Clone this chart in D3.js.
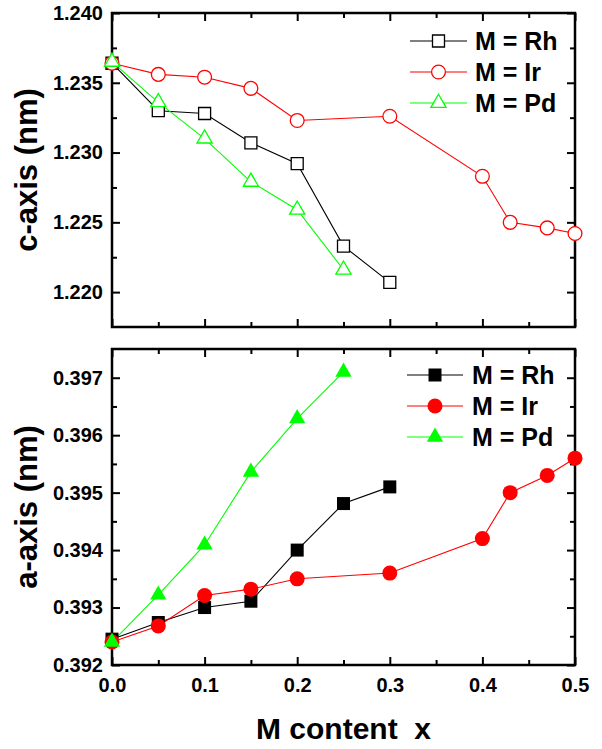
<!DOCTYPE html>
<html>
<head>
<meta charset="utf-8">
<script src="https://cdn.jsdelivr.net/npm/d3@7"></script>
<style>
  body { margin: 0; background: #fff; }
  svg text { font-family: Arial, "Liberation Sans", sans-serif; font-weight: bold; fill: #000; }
</style>
</head>
<body>
<div id="chart"></div>
<script>
// M content x for each dopant
var xRh = [0, 0.05, 0.1, 0.15, 0.2, 0.25, 0.3];
var xIr = [0, 0.05, 0.1, 0.15, 0.2, 0.3, 0.4, 0.43, 0.47, 0.5];
var xPd = [0, 0.05, 0.1, 0.15, 0.2, 0.25];

// c-axis (nm)
var cRh = [1.2364, 1.2330, 1.2328, 1.2307, 1.2292, 1.2233, 1.2207];
var cIr = [1.2364, 1.2356, 1.2354, 1.2346, 1.2323, 1.2326, 1.2283, 1.2250, 1.2246, 1.2242];
var cPd = [1.2365, 1.2336, 1.2310, 1.2279, 1.2259, 1.2216];

// a-axis (nm)
var aRh = [0.39245, 0.39274, 0.3930, 0.39311, 0.3940, 0.39481, 0.3951];
var aIr = [0.39240, 0.39268, 0.39321, 0.39332, 0.3935, 0.3936, 0.3942, 0.3950, 0.3953, 0.3956];
var aPd = [0.39240, 0.39322, 0.39409, 0.39536, 0.39629, 0.39710];

var seriesNames = ["M = Rh", "M = Ir", "M = Pd"];
var xTicks = [0, 0.1, 0.2, 0.3, 0.4, 0.5];
var cTicks = [1.220, 1.225, 1.230, 1.235, 1.240];
var aTicks = [0.392, 0.393, 0.394, 0.395, 0.396, 0.397];

var W = 602, H = 749;
var left = 112, right = 575;
var colors = ["#000000", "#ff0000", "#00ff00"];
var shapes = [d3.symbolSquare, d3.symbolCircle, d3.symbolTriangle];

var svg = d3.select("#chart").append("svg")
    .attr("width", W).attr("height", H);

var x = d3.scaleLinear().domain([0, 0.5]).range([left, right]);

function panel(opts) {
    var y = d3.scaleLinear().domain(opts.domain).range([opts.bottom, opts.top]);
    var g = svg.append("g");

    // ticks on all four sides, pointing inward
    var yMinor = opts.ticks.map(function(t) { return t + opts.minorStep; })
        .filter(function(t) { return t > opts.domain[0] && t < opts.domain[1]; });
    var xMinor = [0.05, 0.15, 0.25, 0.35, 0.45];

    g.append("g").attr("transform", "translate(" + left + ",0)")
        .call(d3.axisLeft(y).tickValues(opts.ticks).tickSize(-8).tickPadding(9)
            .tickFormat(d3.format(opts.fmt)));
    g.append("g").attr("transform", "translate(" + left + ",0)")
        .call(d3.axisLeft(y).tickValues(yMinor).tickSize(-5).tickFormat(""));
    g.append("g").attr("transform", "translate(" + right + ",0)")
        .call(d3.axisRight(y).tickValues(opts.ticks).tickSize(-8).tickFormat(""));
    g.append("g").attr("transform", "translate(" + right + ",0)")
        .call(d3.axisRight(y).tickValues(yMinor).tickSize(-5).tickFormat(""));

    var bottomAxis = d3.axisBottom(x).tickValues(xTicks).tickSize(-8).tickPadding(13)
        .tickFormat(opts.xLabels ? d3.format(".1f") : "");
    g.append("g").attr("transform", "translate(0," + opts.bottom + ")").call(bottomAxis);
    g.append("g").attr("transform", "translate(0," + opts.bottom + ")")
        .call(d3.axisBottom(x).tickValues(xMinor).tickSize(-5).tickFormat(""));
    g.append("g").attr("transform", "translate(0," + opts.top + ")")
        .call(d3.axisTop(x).tickValues(xTicks).tickSize(-8).tickFormat(""));
    g.append("g").attr("transform", "translate(0," + opts.top + ")")
        .call(d3.axisTop(x).tickValues(xMinor).tickSize(-5).tickFormat(""));

    g.selectAll(".domain").remove();
    g.selectAll(".tick line").attr("stroke", "#000").attr("stroke-width", 2);
    g.selectAll(".tick text").style("font-size", "20px");

    g.append("rect")
        .attr("x", left).attr("y", opts.top)
        .attr("width", right - left).attr("height", opts.bottom - opts.top)
        .attr("fill", "none").attr("stroke", "#000").attr("stroke-width", 2.5);

    // axis title
    g.append("text")
        .attr("text-anchor", "middle")
        .attr("transform", "translate(37," + ((opts.top + opts.bottom) / 2) + ") rotate(-90)")
        .style("font-size", "31px")
        .text(opts.label);

    var line = d3.line().x(function(d) { return x(d[0]); }).y(function(d) { return y(d[1]); });

    opts.series.forEach(function(s, i) {
        var pts = s.xs.map(function(v, j) { return [v, s.ys[j]]; });
        g.append("path").datum(pts)
            .attr("d", line).attr("fill", "none")
            .attr("stroke", colors[i]).attr("stroke-width", 1.1);
    });
    opts.series.forEach(function(s, i) {
        var sym = d3.symbol().type(shapes[i]).size(opts.sizes[i]);
        var pts = s.xs.map(function(v, j) { return [v, s.ys[j]]; });
        g.selectAll(null).data(pts).enter().append("path")
            .attr("d", sym)
            .attr("transform", function(d) { return "translate(" + x(d[0]) + "," + y(d[1]) + ")"; })
            .attr("fill", opts.filled ? colors[i] : "#fff")
            .attr("stroke", colors[i]).attr("stroke-width", opts.filled ? 0 : 1.3);
    });

    // legend
    seriesNames.forEach(function(name, i) {
        var ly = opts.legend.y + i * opts.legend.dy;
        g.append("line")
            .attr("x1", opts.legend.x1).attr("x2", opts.legend.x2)
            .attr("y1", ly).attr("y2", ly)
            .attr("stroke", colors[i]).attr("stroke-width", 1.1);
        g.append("path")
            .attr("d", d3.symbol().type(shapes[i]).size(opts.sizes[i]))
            .attr("transform", "translate(" + ((opts.legend.x1 + opts.legend.x2) / 2) + "," + ly + ")")
            .attr("fill", opts.filled ? colors[i] : "#fff")
            .attr("stroke", colors[i]).attr("stroke-width", opts.filled ? 0 : 1.3);
        g.append("text")
            .attr("x", opts.legend.tx).attr("y", ly)
            .attr("dy", "0.36em")
            .style("font-size", "25px")
            .text(name);
    });
}

panel({
    top: 13, bottom: 327,
    domain: [1.2175, 1.240],
    ticks: cTicks, minorStep: 0.0025, fmt: ".3f",
    label: "c-axis (nm)",
    xLabels: false, filled: false,
    sizes: [144, 150, 100],
    series: [{xs: xRh, ys: cRh}, {xs: xIr, ys: cIr}, {xs: xPd, ys: cPd}],
    legend: {x1: 410, x2: 467, tx: 475, y: 41, dy: 31}
});

panel({
    top: 349, bottom: 665,
    domain: [0.392, 0.3975],
    ticks: aTicks, minorStep: 0.0005, fmt: ".3f",
    label: "a-axis (nm)",
    xLabels: true, filled: true,
    sizes: [169, 177, 115],
    series: [{xs: xRh, ys: aRh}, {xs: xIr, ys: aIr}, {xs: xPd, ys: aPd}],
    legend: {x1: 407, x2: 463, tx: 472, y: 375, dy: 31}
});

svg.append("text")
    .attr("x", (left + right) / 2)
    .attr("y", 739)
    .attr("text-anchor", "middle")
    .style("font-size", "30px")
    .style("white-space", "pre")
    .text("M content  x");
</script>
</body>
</html>
